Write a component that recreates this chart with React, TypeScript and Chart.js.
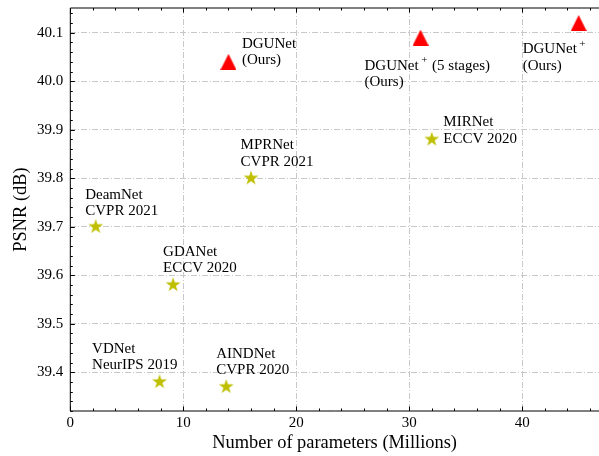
import React, { useEffect, useRef } from "react";
import { Chart, registerables } from "chart.js";

Chart.register(...registerables);

// ---------------- data ----------------
const oursParams = [14, 31, 45];
const oursPsnr = [40.04, 40.09, 40.12];
const oursLabels = [
  ["DGUNet", "(Ours)"],
  ["DGUNet^+ (5 stages)", "(Ours)"],
  ["DGUNet^+", "(Ours)"],
];

const otherParams = [16, 2.25, 32, 9.1, 7.9, 13.8];
const otherPsnr = [39.8, 39.7, 39.88, 39.58, 39.38, 39.37];
const otherLabels = [
  ["MPRNet", "CVPR 2021"],
  ["DeamNet", "CVPR 2021"],
  ["MIRNet", "ECCV 2020"],
  ["GDANet", "ECCV 2020"],
  ["VDNet", "NeurIPS 2019"],
  ["AINDNet", "CVPR 2020"],
];

const xTicks = [0, 10, 20, 30, 40];
const yTicks = [39.4, 39.5, 39.6, 39.7, 39.8, 39.9, 40.0, 40.1];
const xMinorStep = 2;
const yMinorStep = 0.02;
const xTitle = "Number of parameters (Millions)";
const yTitle = "PSNR (dB)";

// ---------------- style ----------------
const FONT = '"Liberation Serif", "Times New Roman", serif';
const RED = "#ff0000";
const OLIVE = "#bfbf00";
const GRID = "#c8c8c8";
const LINE_H = 16.5;
// label offsets in pixels from the marker (text left, first baseline)
const oursOffsets = [
  [13.5, -14],
  [-56, 32],
  [-56, 30],
];
const otherOffsets = [
  [-10.5, -29],
  [-10.5, -28],
  [11.5, -13],
  [-10, -29],
  [-67.5, -29],
  [-10, -29],
];

Chart.defaults.font.family = FONT;

function makeTriangle(color: string, w: number, h: number) {
  const c = document.createElement("canvas");
  c.width = w;
  c.height = h;
  const g = c.getContext("2d")!;
  g.fillStyle = color;
  g.beginPath();
  g.moveTo(w / 2, 0);
  g.lineTo(w, h);
  g.lineTo(0, h);
  g.closePath();
  g.fill();
  return c;
}

function makeStar(color: string, size: number, R: number) {
  const c = document.createElement("canvas");
  c.width = size;
  c.height = size;
  const g = c.getContext("2d")!;
  const cx = size / 2;
  const cy = size / 2;
  const r = R * 0.381966;
  g.fillStyle = color;
  g.beginPath();
  for (let i = 0; i < 10; i++) {
    const ang = (Math.PI / 5) * i;
    const rad = i % 2 === 0 ? R : r;
    const px = cx + rad * Math.sin(ang);
    const py = cy - rad * Math.cos(ang);
    if (i === 0) g.moveTo(px, py);
    else g.lineTo(px, py);
  }
  g.closePath();
  g.fill();
  return c;
}

function drawRich(ctx: CanvasRenderingContext2D, text: string, x: number, y: number) {
  const parts = text.split("^");
  let cx = x;
  ctx.font = `15px ${FONT}`;
  ctx.fillText(parts[0], cx, y);
  cx += ctx.measureText(parts[0]).width;
  for (let i = 1; i < parts.length; i++) {
    const sup = parts[i].charAt(0);
    const rest = parts[i].slice(1);
    cx += 2.5;
    ctx.font = `11px ${FONT}`;
    ctx.fillText(sup, cx, y - 6.5);
    cx += ctx.measureText(sup).width + 1;
    ctx.font = `15px ${FONT}`;
    ctx.fillText(rest, cx, y);
    cx += ctx.measureText(rest).width;
  }
}

const annotatePlugin = {
  id: "annotate",
  afterDatasetsDraw(chart: any) {
    const ctx: CanvasRenderingContext2D = chart.ctx;
    const groups = [
      { labels: oursLabels, offsets: oursOffsets },
      { labels: otherLabels, offsets: otherOffsets },
    ];
    ctx.save();
    ctx.fillStyle = "#000";
    ctx.textBaseline = "alphabetic";
    ctx.textAlign = "left";
    groups.forEach((grp, di) => {
      const meta = chart.getDatasetMeta(di);
      meta.data.forEach((pt: any, i: number) => {
        const [dx, dy] = grp.offsets[i];
        grp.labels[i].forEach((line, li) => {
          drawRich(ctx, line, pt.x + dx, pt.y + dy + li * LINE_H);
        });
      });
    });
    ctx.restore();
  },
};

const framePlugin = {
  id: "frame",
  afterDraw(chart: any) {
    const ctx: CanvasRenderingContext2D = chart.ctx;
    const { left, right, top, bottom } = chart.chartArea;
    const xs = chart.scales.x;
    const ys = chart.scales.y;
    ctx.save();
    ctx.strokeStyle = "#000";
    ctx.lineWidth = 1;
    ctx.setLineDash([]);
    ctx.beginPath();
    ctx.moveTo(left, top);
    ctx.lineTo(left, bottom);
    ctx.lineTo(right + 2, bottom);
    ctx.moveTo(left, top);
    ctx.lineTo(right + 2, top);
    const xMin = xs.min;
    const xMax = xs.max;
    for (let v = xMin; v <= xMax + 1e-9; v += xMinorStep) {
      const major = xTicks.some((t) => Math.abs(t - v) < 1e-6);
      const len = major ? 4.5 : 2.5;
      const px = Math.round(xs.getPixelForValue(v)) + 0.5;
      ctx.moveTo(px, bottom);
      ctx.lineTo(px, bottom - len);
      ctx.moveTo(px, top);
      ctx.lineTo(px, top + len);
    }
    const yStart = Math.ceil(ys.min / yMinorStep - 1e-6) * yMinorStep;
    for (let v = yStart; v <= ys.max + 1e-9; v += yMinorStep) {
      const major = yTicks.some((t) => Math.abs(t - v) < 1e-6);
      const len = major ? 4.5 : 2.5;
      const py = Math.round(ys.getPixelForValue(v)) + 0.5;
      ctx.moveTo(left, py);
      ctx.lineTo(left + len, py);
    }
    ctx.stroke();
    ctx.restore();
  },
};

export default function App() {
  const ref = useRef<HTMLCanvasElement | null>(null);

  useEffect(() => {
    document.body.style.margin = "0";
    const canvas = ref.current;
    if (!canvas) return;
    const tri = makeTriangle(RED, 16, 16);
    const star = makeStar(OLIVE, 18, 7.8);

    const chart = new Chart(canvas, {
      type: "scatter",
      data: {
        datasets: [
          {
            label: "Ours",
            data: oursParams.map((x, i) => ({ x, y: oursPsnr[i] })),
            pointStyle: tri as any,
            backgroundColor: RED,
            borderColor: RED,
          },
          {
            label: "Others",
            data: otherParams.map((x, i) => ({ x, y: otherPsnr[i] })),
            pointStyle: star as any,
            backgroundColor: OLIVE,
            borderColor: OLIVE,
          },
        ],
      },
      options: {
        animation: false,
        responsive: true,
        maintainAspectRatio: false,
        layout: { autoPadding: false, padding: { top: 8, left: 0, right: 0, bottom: 0 } },
        plugins: {
          legend: { display: false },
          tooltip: { enabled: false },
        },
        scales: {
          x: {
            type: "linear",
            min: 0,
            max: 46.8,
            afterBuildTicks: (s: any) => {
              s.ticks = xTicks.map((v) => ({ value: v }));
            },
            afterFit: (s: any) => {
              s.height = 45;
              s.paddingLeft = 0;
              s.paddingRight = 0;
              s.paddingTop = 0;
              s.paddingBottom = 0;
            },
            ticks: {
              color: "#000",
              font: { family: FONT, size: 15 },
              padding: 3,
              maxRotation: 0,
            },
            grid: { color: GRID, lineWidth: 1, drawTicks: false },
            border: { display: false, dash: [6, 2, 1, 2] },
            title: {
              display: true,
              text: xTitle,
              color: "#000",
              font: { family: FONT, size: 18.4 },
              padding: { top: 0, bottom: 2 },
            },
          },
          y: {
            type: "linear",
            min: 39.32,
            max: 40.151,
            afterBuildTicks: (s: any) => {
              s.ticks = yTicks.map((v) => ({ value: v }));
            },
            afterFit: (s: any) => {
              s.width = 70.3;
              s.paddingLeft = 0;
              s.paddingRight = 0;
              s.paddingTop = 0;
              s.paddingBottom = 0;
            },
            ticks: {
              color: "#000",
              font: { family: FONT, size: 15 },
              padding: 7,
              callback: (v: any) => Number(v).toFixed(1),
            },
            grid: { color: GRID, lineWidth: 1, drawTicks: false },
            border: { display: false, dash: [6, 2, 1, 2] },
            title: {
              display: true,
              text: yTitle,
              color: "#000",
              font: { family: FONT, size: 18.4 },
              padding: { top: 10, bottom: 0 },
            },
          },
        },
      },
      plugins: [annotatePlugin, framePlugin],
    });
    return () => chart.destroy();
  }, []);

  return (
    <div style={{ width: 599, height: 456, position: "relative" }}>
      <canvas ref={ref} />
    </div>
  );
}
